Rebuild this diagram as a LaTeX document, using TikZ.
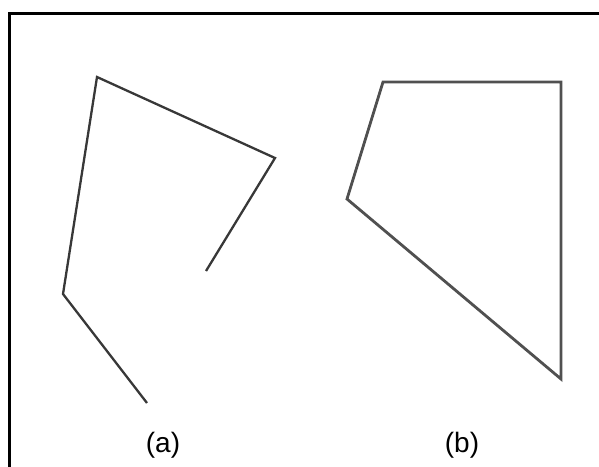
\documentclass[tikz,border=0pt]{standalone}
\usepackage{fontspec}
\setmainfont{Liberation Sans}
\definecolor{linea}{HTML}{383838}
\definecolor{lineb}{HTML}{505050}
\begin{document}
\begin{tikzpicture}[x=1pt,y=-1pt,
  frameline/.style={draw=black,line width=3pt},
  polya/.style={draw=linea,line width=2.3pt,line join=miter},
  polyb/.style={draw=lineb,line width=2.8pt,line join=miter},
  caption/.style={font=\fontsize{28}{32}\selectfont,inner sep=0pt}]
\useasboundingbox (0,0) rectangle (599,466);
% frame (top and left edges)
\coordinate (ftr) at (600,13);
\coordinate (ftl) at (9,13);
\coordinate (fbl) at (9,467);
\draw[frameline] (ftr) -- (ftl) -- (fbl);
% (a) open polyline
\coordinate (a1) at (147,403);
\coordinate (a2) at (63,294);
\coordinate (a3) at (97,77);
\coordinate (a4) at (275,158);
\coordinate (a5) at (206,271);
\draw[polya] (a1) -- (a2) -- (a3) -- (a4) -- (a5);
% (b) closed polygon
\coordinate (b1) at (383,82);
\coordinate (b2) at (561,82);
\coordinate (b3) at (561,379);
\coordinate (b4) at (347,199);
\draw[polyb] (b1) -- (b2) -- (b3) -- (b4) -- cycle;
% labels
\node[caption] (la) at (163,445) {(a)};
\node[caption] (lb) at (462,445) {(b)};
\end{tikzpicture}
\end{document}
